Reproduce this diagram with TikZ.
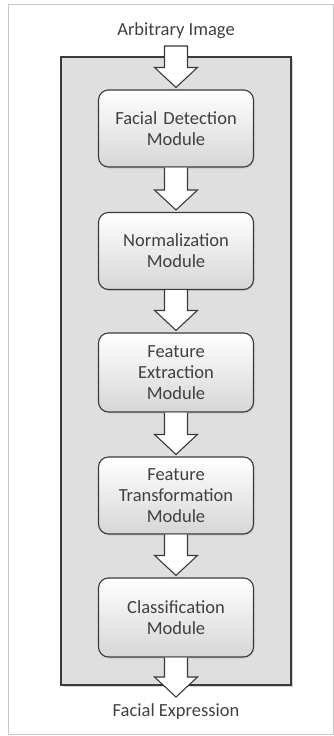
\documentclass[tikz,border=0pt]{standalone}
\usepackage{fontspec}
\setmainfont{Carlito}
\usetikzlibrary{calc, shadows}

\definecolor{txtgrey}{HTML}{404040}
\definecolor{edgegrey}{HTML}{3A3A3A}
\definecolor{panelgrey}{HTML}{DFDFDF}
\definecolor{framegrey}{HTML}{C8C8C8}

\tikzset{
  module/.style={draw=edgegrey, line width=1.1pt, rounded corners=10pt,
    top color=white, bottom color=gray!32, text=txtgrey,
    minimum width=155pt, minimum height=77pt, text width=145pt, align=center,
    font=\fontsize{18.5}{21}\selectfont,
    drop shadow={opacity=0.2, shadow xshift=1pt, shadow yshift=-1.5pt}},
  label/.style={text=txtgrey, font=\fontsize{18.5}{21}\selectfont},
  blockarr/.style={draw=edgegrey, fill=white, line width=1.1pt, line join=miter}
}

% block arrow between two nodes: shaft 23 wide, head 43 wide, 22 long
\newcommand{\flowarrow}[3][]{%
  \filldraw[blockarr] ($(#2)+(-11.5,0)$) -- ($(#2 |- #3)+(-11.5,-22)$)
    -- ($(#2 |- #3)+(-21.5,-22)$) -- ($(#2 |- #3)+(0,-2)$)
    -- ($(#2 |- #3)+(21.5,-22)$) -- ($(#2 |- #3)+(11.5,-22)$)
    -- ($(#2)+(11.5,0)$) #1;}

\begin{document}
\begin{tikzpicture}[x=1pt, y=-1pt]
\useasboundingbox (0,0) rectangle (334,736);

% outer frame and grey panel
\draw[framegrey, line width=0.8pt] (8,4) rectangle (333.5,734);
\draw[draw=edgegrey, fill=panelgrey, line width=1.1pt,
  drop shadow={opacity=0.35, shadow xshift=1.5pt, shadow yshift=-1.5pt}]
  (61,57) rectangle (291,685);

% input / output labels
\node[label] (img) at (176,31) {Arbitrary Image};
\node[label] (expr) at (176,712) {Facial Expression};
\coordinate (in) at (176,46);
\coordinate (out) at (176,699);

% the five stages
\node[module] (detect) at (176,128.5) {Facial Detection\\Module};
\node[module] (norm) at (176,251) {Normalization\\Module};
\node[module, minimum height=79pt] (extract) at (176,372.5) {Feature\\Extraction\\Module};
\node[module] (transform) at (176,495.5) {Feature\\Transformation\\Module};
\node[module, minimum height=79pt] (classify) at (176,617.5) {Classification\\Module};

% arrows
\flowarrow[-- cycle]{in}{detect.north}
\flowarrow{detect.south}{norm.north}
\flowarrow{norm.south}{extract.north}
\flowarrow{extract.south}{transform.north}
\flowarrow{transform.south}{classify.north}
\flowarrow{classify.south}{out}

\end{tikzpicture}
\end{document}
